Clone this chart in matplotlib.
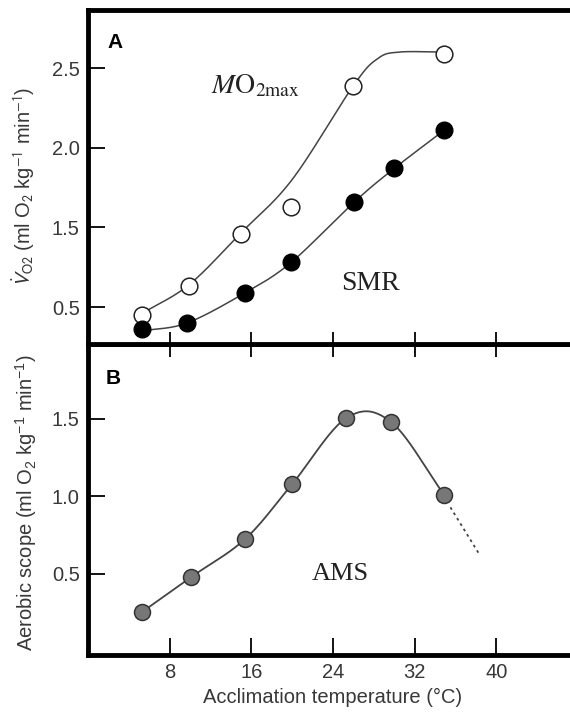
import numpy as np
import matplotlib
matplotlib.use('Agg')
import matplotlib.pyplot as plt

plt.rcParams['font.family'] = ['Liberation Sans', 'DejaVu Sans']
plt.rcParams['mathtext.fontset'] = 'custom'
plt.rcParams['mathtext.rm'] = 'Liberation Sans'
plt.rcParams['mathtext.it'] = 'Liberation Sans:italic'
plt.rcParams['mathtext.bf'] = 'Liberation Sans:bold'

TXT = '#383838'
LINE = '#444444'

# данные, снятые с рисунка
# панель A: максимальное (пустые) и стандартное (залитые) потребление O2
temp_max = [5.3, 9.9, 15.0, 19.9, 26.0, 34.9]
mo2_max = [0.95, 1.13, 1.46, 1.63, 2.39, 2.59]
temp_smr = [5.3, 9.7, 15.4, 19.9, 26.1, 30.0, 34.9]
smr = [0.86, 0.90, 1.09, 1.28, 1.66, 1.87, 2.11]

# линии аппроксимации (точки кривой)
fit_max_x = [5.3, 9.9, 14.9, 20.0, 26.0, 28.4, 30.5, 34.9]
fit_max_y = [0.96, 1.14, 1.46, 1.80, 2.39, 2.56, 2.60, 2.60]
fit_smr_x = [5.3, 9.7, 15.4, 19.9, 26.1, 30.0, 34.9]
fit_smr_y = [0.85, 0.90, 1.09, 1.28, 1.66, 1.87, 2.11]

# метки оси y панели A (как на исходном рисунке)
a_ticks = [1.0, 1.5, 2.0, 2.5]
a_tick_labels = ['0.5', '1.5', '2.0', '2.5']

# панель B: аэробный диапазон
temp_ams = [5.3, 10.1, 15.4, 20.0, 25.3, 29.7, 34.9]
ams = [0.255, 0.48, 0.726, 1.08, 1.506, 1.48, 1.01]
extrap_x = [35.5, 38.4]
extrap_y = [0.93, 0.62]

b_ticks = [0.5, 1.0, 1.5]
b_tick_labels = ['0.5', '1.0', '1.5']
x_ticks = [8, 16, 24, 32, 40]


def smooth(xs, ys, n=25):
    # сплайн Катмулла-Рома через точки
    pts = np.column_stack([xs, ys]).astype(float)
    p = np.vstack([2 * pts[0] - pts[1], pts, 2 * pts[-1] - pts[-2]])
    t = np.linspace(0, 1, n)[:, None]
    out = []
    for i in range(1, len(p) - 2):
        p0, p1, p2, p3 = p[i - 1], p[i], p[i + 1], p[i + 2]
        seg = 0.5 * (2 * p1 + (-p0 + p2) * t
                     + (2 * p0 - 5 * p1 + 4 * p2 - p3) * t ** 2
                     + (-p0 + 3 * p1 - 3 * p2 + p3) * t ** 3)
        out.append(seg)
    out = np.vstack(out)
    return out[:, 0], out[:, 1]


fig = plt.figure(figsize=(5.7, 7.15), dpi=100)
left, width = 88 / 570, 490 / 570
ax_a = fig.add_axes([left, 1 - 344 / 715, width, 334 / 715])
ax_b = fig.add_axes([left, 1 - 655 / 715, width, 311 / 715])
ax_a.set_zorder(3)  # чтобы риски общей оси были видны с обеих сторон

for ax in (ax_a, ax_b):
    for s in ax.spines.values():
        s.set_linewidth(3.5)
    ax.set_xlim(0, 48)
    ax.set_xticks(x_ticks)
    ax.tick_params(axis='both', direction='in', length=12, width=1.3,
                   labelsize=14.5, labelcolor=TXT, pad=6)

# --- Панель A ---
fx, fy = smooth(fit_max_x, fit_max_y)
ax_a.plot(fx, fy, color=LINE, lw=1.1, zorder=2)
fx, fy = smooth(fit_smr_x, fit_smr_y)
ax_a.plot(fx, fy, color=LINE, lw=1.1, zorder=2)
ax_a.plot(temp_max, mo2_max, 'o', ms=12, mfc='white', mec='#222222', mew=1.1, zorder=3)
ax_a.plot(temp_smr, smr, 'o', ms=12, mfc='black', mec='black', mew=1, zorder=3)

ax_a.set_ylim(0.768, 2.864)
ax_a.set_yticks(a_ticks)
ax_a.set_yticklabels(a_tick_labels)
ax_a.tick_params(axis='x', direction='inout', length=18, labelbottom=False)
ax_a.set_ylabel(r'$\dot{V}_{\mathrm{O2}}$ (ml O$_2$ kg$^{-1}$ min$^{-1}$)',
                fontsize=14.5, color=TXT, math_fontfamily='stixsans')
ax_a.yaxis.set_label_coords(-0.104, 0.47)

fig.text(107 / 570, 1 - 48 / 715, 'A', fontsize=15, fontweight='bold', color='black')
fig.text(211 / 570, 1 - 93 / 715, r'$\mathit{M}\mathrm{O}_{\mathrm{2max}}$',
         fontsize=20, math_fontfamily='stix', color='#222222')
fig.text(341 / 570, 1 - 290 / 715, 'SMR', fontsize=20,
         family='Liberation Serif', color='#222222')

# --- Панель B ---
fx, fy = smooth(temp_ams, ams)
ax_b.plot(fx, fy, color=LINE, lw=1.3, zorder=2)
ax_b.plot(extrap_x, extrap_y, color=LINE, lw=1.3, ls=(0, (1.5, 2)), zorder=2)
ax_b.plot(temp_ams, ams, 'o', ms=11.5, mfc='#777777', mec='#333333', mew=1.1, zorder=3)

ax_b.set_ylim(-0.023, 1.984)
ax_b.set_yticks(b_ticks)
ax_b.set_yticklabels(b_tick_labels)
ax_b.tick_params(axis='x', top=False)
ax_b.set_xlabel('Acclimation temperature (°C)', fontsize=14.5, color=TXT, labelpad=4)
ax_b.set_ylabel('Aerobic scope (ml O$_2$ kg$^{-1}$ min$^{-1}$)', fontsize=14.5, color=TXT)
ax_b.yaxis.set_label_coords(-0.1, 0.49)

fig.text(106 / 570, 1 - 384 / 715, 'B', fontsize=15, fontweight='bold', color='black')
fig.text(312 / 570, 1 - 580 / 715, 'AMS', fontsize=19,
         family='Liberation Serif', color='#222222')

fig.savefig('out.png', dpi=100)
